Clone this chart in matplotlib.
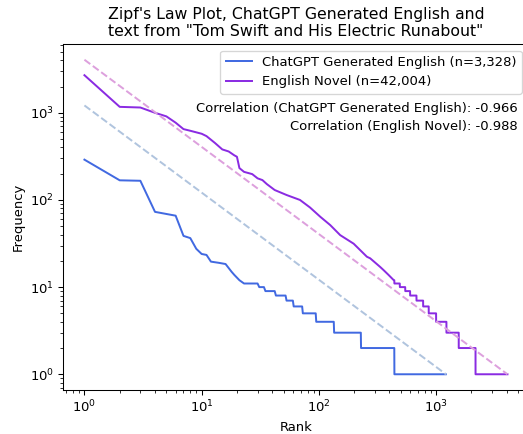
import numpy as np
import matplotlib
matplotlib.use("Agg")
import matplotlib.pyplot as plt

# rank / frequency points (corners of the polyline)
gpt_rank = [1, 2, 3, 4, 6, 7, 8, 9, 10, 11, 12, 14, 16, 18, 19, 21, 23, 30, 31, 34, 35, 42, 43,
            52, 53, 60, 61, 72, 73, 94, 95, 134, 135, 228, 229, 440, 441, 1210]
gpt_freq = [290, 168, 166, 73, 66, 38.7, 36.5, 27.5, 24, 23.4, 19.6, 19, 18.4, 15, 13.8, 12, 11, 11, 10, 10, 9, 9, 8,
            8, 7, 7, 6, 6, 5, 5, 4, 4, 3, 3, 2, 2, 1, 1]

novel_rank = [1, 2, 3, 4, 5, 6, 7, 8, 10, 11, 13, 15, 17, 19, 20, 21, 23, 27, 30, 33, 36, 42, 53, 69,
              84, 103, 125, 152, 198, 257, 274, 334, 356, 393, 433, 440, 441, 490, 491, 545, 546, 600,
              601, 680, 681, 775, 776, 865, 866, 1000, 1001, 1225, 1226, 1560, 1561, 2170, 2171, 4063]
novel_freq = [2700, 1170, 1150, 1000, 910, 770, 650, 622, 575, 540, 450, 380, 360, 325, 313, 232, 210, 198, 177, 169, 152, 130, 114, 100,
              82, 64, 51.5, 39.5, 31.5, 22.3, 21.4, 17, 15.7, 13.8, 12.1, 12, 11, 11, 10, 10, 9, 9,
              8, 8, 7, 7, 6, 6, 5, 5, 4, 4, 3, 3, 2, 2, 1, 1]

# ideal zipf reference lines (end points)
gpt_zipf_x = [1, 1215]
gpt_zipf_y = [1215, 1]
novel_zipf_x = [1, 4063]
novel_zipf_y = [4063, 1]

labels = ["ChatGPT Generated English (n=3,328)", "English Novel (n=42,004)"]
corr_gpt = -0.966
corr_novel = -0.988

DPI = 94.5
fig = plt.figure(figsize=(523 / DPI, 434 / DPI), dpi=DPI)
ax = fig.add_axes([0.121, 0.1014, 0.8897, 0.7972])

ax.plot(gpt_rank, gpt_freq, color="royalblue", linewidth=1.5, label=labels[0])
ax.plot(gpt_zipf_x, gpt_zipf_y, color="lightsteelblue", linewidth=1.5, linestyle="--")
ax.plot(novel_rank, novel_freq, color="blueviolet", linewidth=1.5, label=labels[1])
ax.plot(novel_zipf_x, novel_zipf_y, color="plum", linewidth=1.5, linestyle="--")

ax.set_xscale("log")
ax.set_yscale("log")
ax.set_xlabel("Rank")
ax.set_ylabel("Frequency")
ax.set_title("Zipf's Law Plot, ChatGPT Generated English and\ntext from \"Tom Swift and His Electric Runabout\"", fontsize=12)
ax.legend(loc="upper right")

ax.text(0.977, 0.815, "Correlation (ChatGPT Generated English): %.3f" % corr_gpt,
        transform=ax.transAxes, ha="right", va="center", fontsize=10)
ax.text(0.977, 0.763, "Correlation (English Novel): %.3f" % corr_novel,
        transform=ax.transAxes, ha="right", va="center", fontsize=10)

fig.savefig("out.png", dpi=DPI)
